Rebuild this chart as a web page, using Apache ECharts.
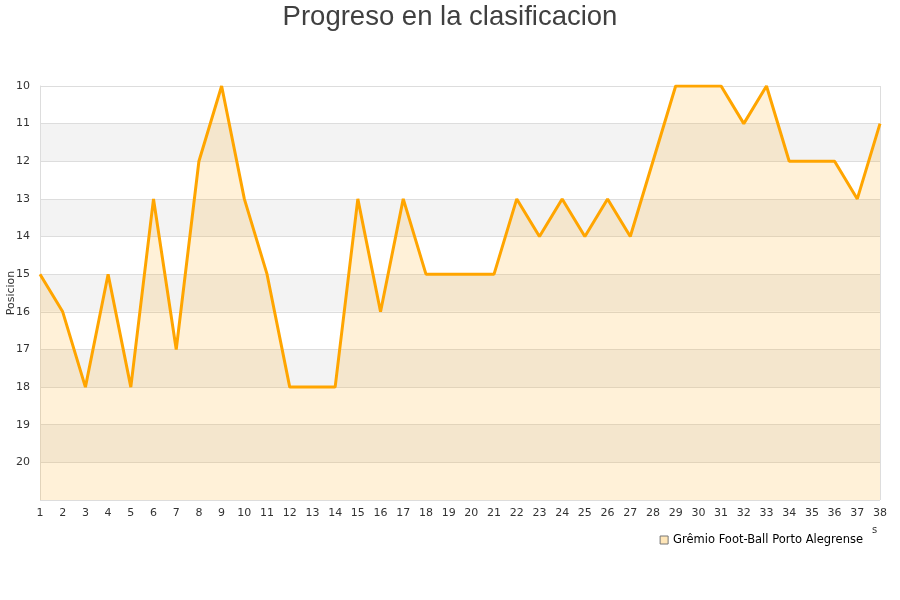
<!DOCTYPE html>
<html><head><meta charset="utf-8">
<script src="https://cdn.jsdelivr.net/npm/echarts@6/dist/echarts.min.js"></script>
<style>html,body{margin:0;padding:0;background:#fff}#c{width:900px;height:600px}</style>
</head><body><div id="c"></div>
<script>
const titleText = "Progreso en la clasificacion";
const seriesName = "Grêmio Foot-Ball Porto Alegrense";
const yAxisName = "Posicion";
const jornadas = [1,2,3,4,5,6,7,8,9,10,11,12,13,14,15,16,17,18,19,20,21,22,23,24,25,26,27,28,29,30,31,32,33,34,35,36,37,38];
const posiciones = [15,16,18,15,18,13,17,12,10,13,15,18,18,18,13,16,13,15,15,15,15,13,14,13,14,13,14,12,10,10,10,11,10,12,12,12,13,11];
const yMin = 10, yMax = 21;

const chart = echarts.init(document.getElementById('c'));
chart.setOption({
  animation: false,
  title: { text: titleText, left: 'center', top: -2,
    textStyle: { fontFamily: 'Liberation Sans', fontSize: 27.5, fontWeight: 'normal', color: '#404040' } },
  grid: { left: 40, right: 20, top: 86, bottom: 100, containLabel: false, outerBoundsMode: 'none' },
  legend: { data: [{ name: seriesName, icon: 'rect' }], right: 32, top: 529, itemWidth: 8, itemHeight: 8, itemGap: 8,
    itemStyle: { color: '#ffe6b8', borderColor: '#777', borderWidth: 1 },
    textStyle: { fontFamily: 'DejaVu Sans', fontSize: 11.5, color: '#000' } },
  xAxis: { type: 'category', data: jornadas, boundaryGap: false,
    axisLine: { show: false }, axisTick: { show: false },
    axisLabel: { fontFamily: 'DejaVu Sans', fontSize: 11, color: '#333', margin: 8, interval: 0 },
    splitLine: { show: false } },
  yAxis: { type: 'value', inverse: true, min: yMin, max: yMax, interval: 1,
    axisLine: { show: true, lineStyle: { color: '#ddd' } }, axisTick: { show: false },
    axisLabel: { fontFamily: 'DejaVu Sans', fontSize: 11, color: '#333', margin: 10,
      formatter: v => v >= yMax ? '' : String(v) },
    splitLine: { show: true, lineStyle: { color: '#ddd', width: 1 } },
    splitArea: { show: true, areaStyle: { color: ['#ffffff', '#f3f3f3'] } } },
  series: [{
    name: seriesName, type: 'line', data: posiciones, symbol: 'none',
    lineStyle: { color: '#ffa500', width: 3 },
    itemStyle: { color: '#ffa500' },
    areaStyle: { color: 'rgba(255,165,0,0.22)', origin: 'end' }
  }],
  graphic: [
    { type: 'rect', shape: { x: 880, y: 86, width: 1, height: 414 }, style: { fill: '#ddd' } },
    { type: 'text', x: 11, y: 293, rotation: Math.PI / 2,
      style: { text: yAxisName, fontFamily: 'DejaVu Sans', fontSize: 11, fill: '#333', align: 'center', verticalAlign: 'middle' } },
    { type: 'text', left: 872, top: 525, style: { text: 's', fontFamily: 'DejaVu Sans', fontSize: 10, fill: '#333' } }
  ]
});
</script></body></html>
